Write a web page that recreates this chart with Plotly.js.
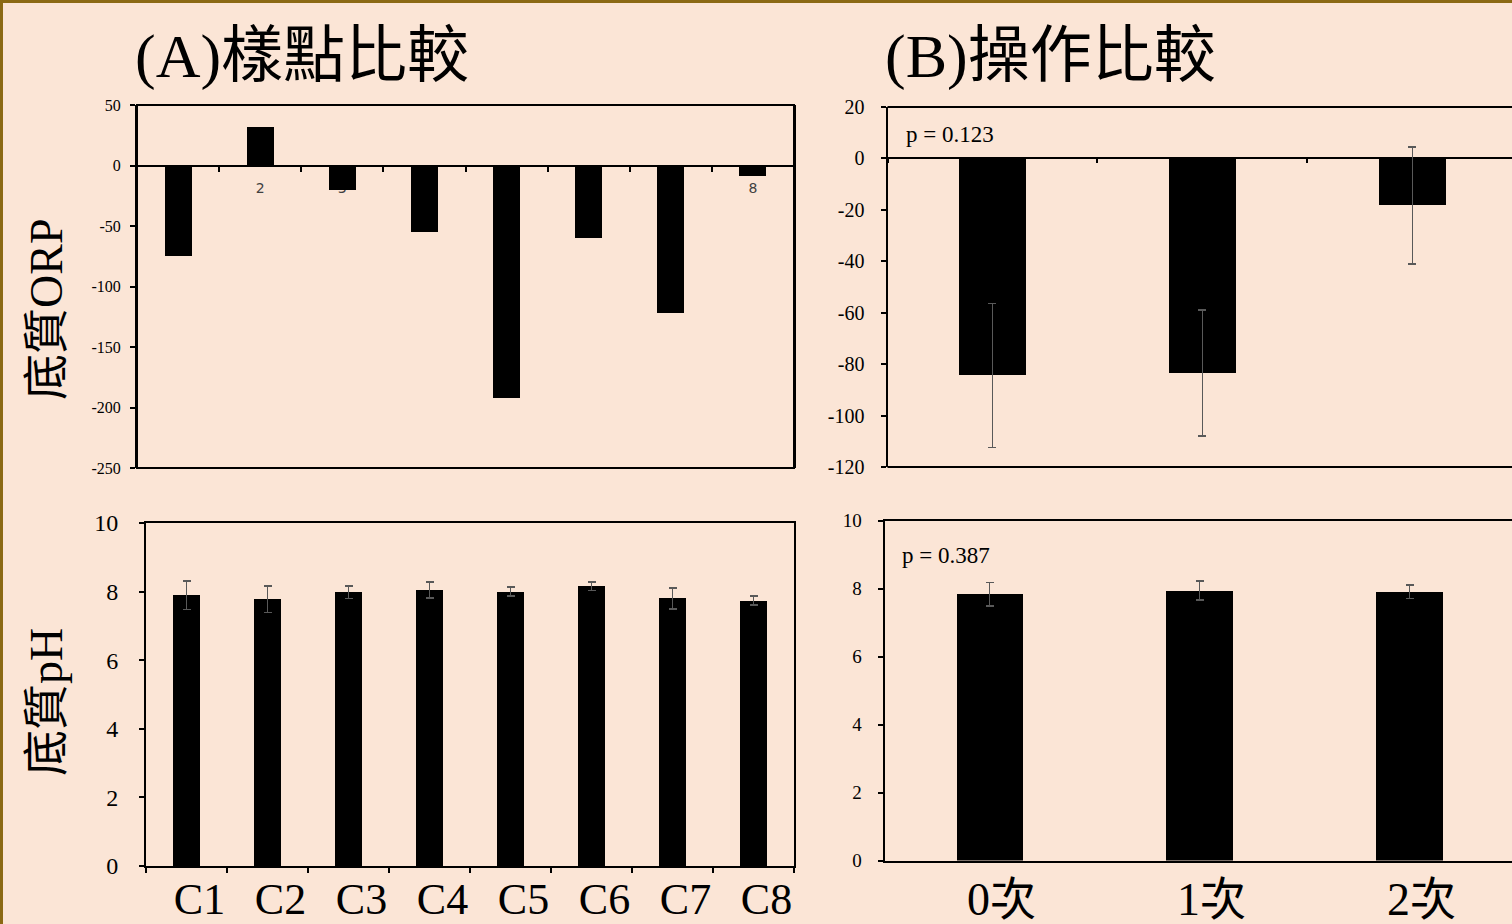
<!DOCTYPE html>
<html>
<head>
<meta charset="utf-8">
<script src="https://cdn.plot.ly/plotly-3.0.1.min.js"></script>
<style>
html,body{margin:0;padding:0;background:#FBE5D6;}
#chart{width:1512px;height:924px;}
</style>
</head>
<body>
<div id="chart"></div>
<script>
// ---- data ----
const categoriesA = ['C1','C2','C3','C4','C5','C6','C7','C8'];
const orpAxisLabelsA = ['1','2','3','4','5','6','7','8'];
const orpA = [-75, 32, -20, -55, -192, -60, -122, -8.5];
const phA = [7.89, 7.78, 7.98, 8.05, 8.0, 8.15, 7.8, 7.74];
const phErrA = [0.41, 0.39, 0.18, 0.24, 0.13, 0.12, 0.3, 0.13];

const categoriesB = ['0次','1次','2次'];
const orpB = [-84.4, -83.3, -18.2];
const orpErrB = [28, 24.5, 22.8];
const phB = [7.84, 7.94, 7.91];
const phErrB = [0.34, 0.28, 0.2];

const pValueORP = 'p = 0.123';
const pValuePH = 'p = 0.387';
const titleA = '(A)樣點比較';
const titleB = '(B)操作比較';
const yTitleORP = '底質ORP';
const yTitlePH = '底質pH';

// ---- layout helpers ----
const W = 1512, H = 924;
const px = x => x / W;
const py = y => 1 - y / H;
const SERIF = 'Liberation Serif, Noto Sans CJK TC, serif';
const BG = '#FBE5D6';

const domA1x = [px(137), px(794)], domA1y = [py(468), py(105)];
const domA2x = [px(146), px(794)], domA2y = [py(866), py(523)];
const domB1x = [px(887.5), 1], domB1y = [py(467), py(107)];
const domB2x = [px(884.6), 1], domB2y = [py(860.5), py(520.7)];

const rA1 = [-250, 50], rA2 = [0, 10], rB1 = [-120, 20], rB2 = [0, 10];
const zeroPos = (dom, r) => dom[0] + (0 - r[0]) / (r[1] - r[0]) * (dom[1] - dom[0]);
// tick values with plain hyphen minus labels
function ticksFor(r, step) {
  const vals = [];
  for (let v = r[0]; v <= r[1] + 1e-9; v += step) vals.push(v);
  return {tickmode:'array', tickvals:vals, ticktext:vals.map(v => String(v))};
}

const errStyle = {type:'data', visible:true, color:'#595959', thickness:1.8, width:4};

const traces = [
  {type:'bar', x:categoriesA, y:orpA, xaxis:'x', yaxis:'y', width:0.33,
   marker:{color:'#000000', line:{width:0}}, hoverinfo:'skip'},
  {type:'bar', x:categoriesA, y:phA, xaxis:'x2', yaxis:'y2', width:0.33,
   marker:{color:'#000000', line:{width:0}},
   error_y:Object.assign({array:phErrA}, errStyle), hoverinfo:'skip'},
  {type:'bar', x:categoriesB, y:orpB, xaxis:'x3', yaxis:'y3', width:0.32,
   marker:{color:'#000000', line:{width:0}},
   error_y:Object.assign({array:orpErrB}, errStyle), hoverinfo:'skip'},
  {type:'bar', x:categoriesB, y:phB, xaxis:'x4', yaxis:'y4', width:0.315,
   marker:{color:'#000000', line:{width:0}},
   error_y:Object.assign({array:phErrB}, errStyle), hoverinfo:'skip'}
];

const yCommon = {showgrid:false, ticks:'outside', ticklen:5, tickwidth:2, tickcolor:'#000',
  showline:true, linecolor:'#000', linewidth:2, fixedrange:true};

const layout = {
  width:W, height:H, margin:{l:0,r:0,t:0,b:0},
  paper_bgcolor:BG, plot_bgcolor:'rgba(0,0,0,0)',
  showlegend:false, bargap:0,
  font:{family:SERIF, color:'#000'},
  xaxis:{domain:domA1x, anchor:'free', position:zeroPos(domA1y, rA1), type:'category',
    range:[-0.5,7.5], tickson:'boundaries', ticks:'outside', ticklen:5, tickwidth:2, tickcolor:'#000',
    tickmode:'array', tickvals:categoriesA, ticktext:orpAxisLabelsA,
    tickfont:{family:'DejaVu Sans, sans-serif', size:14, color:'#404040'},
    ticklabelstandoff:12,
    showline:false, showgrid:false, zeroline:false, layer:'below traces', fixedrange:true},
  yaxis:Object.assign({}, yCommon, ticksFor(rA1, 50), {domain:domA1y, anchor:'x', range:rA1, mirror:true,
    zeroline:true, zerolinecolor:'#000', zerolinewidth:2,
    tickfont:{family:SERIF, size:16, color:'#000'}, ticklabelstandoff:6}),

  xaxis2:{domain:domA2x, anchor:'y2', type:'category', range:[-0.5,7.5], tickson:'boundaries',
    ticks:'outside', ticklen:5, tickwidth:2, tickcolor:'#000', showline:true, linewidth:2,
    linecolor:'#000', mirror:true, showgrid:false, zeroline:false,
    tickfont:{family:SERIF, size:44, color:'#000'}, ticklabelshift:13, ticklabelstandoff:-7, fixedrange:true},
  yaxis2:Object.assign({}, yCommon, ticksFor(rA2, 2), {domain:domA2y, anchor:'x2', range:rA2, mirror:true,
    zeroline:false, tickfont:{family:SERIF, size:24, color:'#000'}, ticklabelstandoff:16}),

  xaxis3:{domain:domB1x, anchor:'free', position:zeroPos(domB1y, rB1), type:'category',
    range:[-0.5,2.474], tickson:'boundaries', ticks:'outside', ticklen:4, tickwidth:2, tickcolor:'#000',
    showticklabels:false, showline:false, showgrid:false, zeroline:false, fixedrange:true},
  yaxis3:Object.assign({}, yCommon, ticksFor(rB1, 20), {domain:domB1y, anchor:'x3', range:rB1, mirror:false,
    zeroline:true, zerolinecolor:'#000', zerolinewidth:2,
    tickfont:{family:SERIF, size:20, color:'#000'}, ticklabelstandoff:12}),

  xaxis4:{domain:domB2x, anchor:'y4', type:'category', range:[-0.5,2.488],
    ticks:'', showline:true, linewidth:2, linecolor:'#000', mirror:true, showgrid:false, zeroline:false,
    tickfont:{family:SERIF, size:46, color:'#000'}, ticklabelshift:12, ticklabelstandoff:-3, fixedrange:true},
  yaxis4:Object.assign({}, yCommon, ticksFor(rB2, 2), {domain:domB2y, anchor:'x4', range:rB2, mirror:false,
    zeroline:false, tickfont:{family:SERIF, size:19, color:'#000'}, ticklabelstandoff:12}),

  shapes:[
    // outer gold border (top & left visible)
    {type:'rect', xref:'paper', yref:'paper', x0:0, x1:1.2, y0:-0.2, y1:1,
     line:{color:'#8B6914', width:6}, fillcolor:'rgba(0,0,0,0)'},
    // frame A-ORP
    {type:'rect', xref:'paper', yref:'paper', x0:domA1x[0], x1:domA1x[1], y0:domA1y[0], y1:domA1y[1],
     line:{color:'#000', width:2}, fillcolor:'rgba(0,0,0,0)'},
    // frame B-ORP top & bottom
    {type:'line', xref:'paper', yref:'paper', x0:domB1x[0], x1:1.02, y0:domB1y[1], y1:domB1y[1],
     line:{color:'#000', width:2}},
    {type:'line', xref:'paper', yref:'paper', x0:domB1x[0], x1:1.02, y0:domB1y[0], y1:domB1y[0],
     line:{color:'#000', width:2}}
  ],

  annotations:[
    {text:titleA, xref:'paper', yref:'paper', x:px(133), y:py(57), xanchor:'left', yanchor:'middle',
     showarrow:false, font:{family:SERIF, size:62, color:'#000'}},
    {text:titleB, xref:'paper', yref:'paper', x:px(883), y:py(57), xanchor:'left', yanchor:'middle',
     showarrow:false, font:{family:SERIF, size:62, color:'#000'}},
    {text:yTitleORP, xref:'paper', yref:'paper', x:px(46), y:py(310), xanchor:'center', yanchor:'middle',
     textangle:-90, showarrow:false, font:{family:SERIF, size:46, color:'#000'}},
    {text:yTitlePH, xref:'paper', yref:'paper', x:px(46), y:py(702), xanchor:'center', yanchor:'middle',
     textangle:-90, showarrow:false, font:{family:SERIF, size:46, color:'#000'}},
    {text:pValueORP, xref:'paper', yref:'paper', x:px(904), y:py(134), xanchor:'left', yanchor:'middle',
     showarrow:false, font:{family:SERIF, size:23, color:'#000'}},
    {text:pValuePH, xref:'paper', yref:'paper', x:px(900), y:py(555), xanchor:'left', yanchor:'middle',
     showarrow:false, font:{family:SERIF, size:23, color:'#000'}}
  ]
};

Plotly.newPlot('chart', traces, layout, {displayModeBar:false, staticPlot:true});
</script>
</body>
</html>
